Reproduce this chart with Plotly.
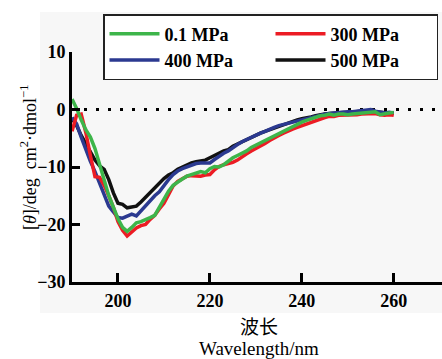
import plotly.graph_objects as go

wavelength = list(range(190, 261))

mpa_0_1 = [1.8, 0.2, -1.8, -3.5, -4.8, -6.8, -9.5, -12.5, -15.0, -17.0,
           -19.0, -20.5, -21.2, -20.5, -19.7, -19.5, -19.2, -18.8, -18.4, -17.0,
           -15.5, -14.2, -13.2, -12.6, -12.1, -11.6, -11.3, -11.0, -10.8, -11.0,
           -10.3, -9.9, -10.0, -9.6, -9.0, -8.4, -8.0, -7.6, -7.2, -6.6,
           -6.2, -5.8, -5.3, -4.9, -4.5, -4.1, -3.7, -3.3, -2.9, -2.5,
           -2.2, -1.9, -1.6, -1.3, -1.1, -1.0, -0.8, -1.0, -0.8, -0.8,
           -0.9, -0.8, -0.7, -0.7, -0.6, -0.4, -0.4, -0.9, -0.7, -0.6, -0.5]

mpa_300 = [-3.8, -1.0, -0.8, -4.0, -8.0, -11.7, -11.8, -13.2, -15.0, -17.0,
           -19.5, -21.0, -22.0, -21.2, -20.6, -20.2, -20.0, -19.1, -18.4, -17.3,
           -16.3, -14.8, -13.3, -12.5, -12.0, -11.6, -11.5, -11.6, -11.6, -11.4,
           -11.3, -10.5, -9.9, -9.6, -9.4, -9.2, -8.8, -8.2, -7.7, -7.2,
           -6.8, -6.3, -5.9, -5.4, -4.9, -4.5, -4.1, -3.7, -3.4, -3.1,
           -2.8, -2.5, -2.2, -1.9, -1.6, -1.4, -1.2, -1.2, -1.0, -1.0,
           -0.9, -1.0, -0.9, -0.8, -0.8, -0.7, -0.7, -0.9, -1.0, -0.9, -1.0]

mpa_400 = [-1.4, -2.5, -4.8, -7.0, -9.0, -10.8, -12.8, -15.0, -16.8, -17.8,
           -18.8, -18.9, -18.6, -18.2, -18.5, -17.6, -16.8, -15.9, -15.0, -14.3,
           -13.2, -12.2, -11.3, -10.7, -10.3, -10.0, -9.6, -9.4, -9.3, -9.3,
           -9.3, -8.7, -8.1, -7.6, -7.2, -6.6, -6.1, -5.6, -5.2, -4.8,
           -4.4, -4.1, -3.8, -3.4, -3.1, -2.8, -2.6, -2.3, -2.1, -1.9,
           -1.7, -1.5, -1.3, -1.1, -0.9, -0.8, -0.7, -0.6, -0.5, -0.5,
           -0.4, -0.4, -0.3, -0.2, -0.1, 0.0, -0.3, -0.4, -0.6, -0.5, -0.6]

mpa_500 = [-1.5, -2.8, -4.5, -6.0, -7.5, -8.8, -9.8, -10.4, -12.2, -14.5,
           -16.3, -16.5, -17.1, -17.0, -16.8, -16.1, -15.3, -14.4, -13.5, -12.7,
           -12.0, -11.4, -11.0, -10.4, -10.0, -9.6, -9.3, -9.1, -9.0, -8.8,
           -8.4, -8.0, -7.5, -7.2, -7.0, -6.4, -6.0, -5.6, -5.2, -4.8,
           -4.4, -4.1, -3.8, -3.5, -3.2, -2.9, -2.6, -2.3, -2.0, -1.8,
           -1.6, -1.5, -1.3, -1.1, -0.9, -0.8, -0.7, -0.6, -0.6, -0.5,
           -0.5, -0.4, -0.4, -0.3, -0.3, -0.2, -0.4, -0.5, -0.6, -0.6, -0.7]

x_ticks = [200, 220, 240, 260]
y_ticks = [-30, -20, -10, 0, 10]

SERIF = "Liberation Serif, Times New Roman, Noto Sans CJK SC, serif"

fig = go.Figure()
series = [
    ("500 MPa", mpa_500, "#111111", 4),
    ("400 MPa", mpa_400, "#2b3990", 3),
    ("300 MPa", mpa_300, "#ec1c24", 2),
    ("0.1 MPa", mpa_0_1, "#3db54a", 1),
]
for name, vals, color, rank in series:
    fig.add_trace(go.Scatter(x=wavelength, y=vals, mode="lines", name=name,
                             line=dict(color=color, width=3.5), legendrank=rank))

L, T, B, R = 72, 52, 77, 0
W, H = 442, 359
pw, ph = W - L - R, H - T - B

def px_x(p):
    return (p - L) / pw

def px_y(p):
    return (H - B - p) / ph

fig.update_layout(
    width=W, height=H,
    margin=dict(l=L, r=R, t=T, b=B, pad=0, autoexpand=False),
    paper_bgcolor="white",
    plot_bgcolor="#f7f7f7",
    font=dict(family=SERIF, color="black"),
    showlegend=True,
    legend=dict(
        orientation="h", entrywidth=101, entrywidthmode="pixels",
        x=px_x(103), xanchor="left", y=px_y(14), yanchor="top",
        bgcolor="white", bordercolor="#222222", borderwidth=1.5,
        font=dict(family=SERIF, size=18, weight="bold", color="black"),
        itemwidth=50, tracegroupgap=0,
    ),
    xaxis=dict(
        range=[190, 270.5], tickvals=x_ticks, ticks="inside", ticklen=9,
        tickwidth=3, tickcolor="black", showline=True, linewidth=3,
        linecolor="black", showgrid=False, zeroline=False,
        tickfont=dict(family=SERIF, size=18, weight="bold", color="black"),
    ),
    yaxis=dict(
        range=[-30, 10], tickvals=y_ticks, ticks="inside", ticklen=8,
        tickwidth=3, tickcolor="black", showline=True, linewidth=3,
        linecolor="black", showgrid=False, zeroline=False,
        tickfont=dict(family=SERIF, size=18, weight="bold", color="black"),
    ),
    shapes=[
        dict(type="rect", xref="paper", yref="paper", x0=px_x(40), x1=1,
             y0=px_y(313), y1=px_y(12), fillcolor="#f7f7f7", line=dict(width=0),
             layer="below"),
        dict(type="line", xref="paper", yref="y", x0=0, x1=1, y0=0, y1=0,
             line=dict(color="black", width=3, dash="3px,9px"), layer="below"),
    ],
    annotations=[
        dict(text="[<i>θ</i>]/deg  cm<sup>2</sup>·dmol<sup>−1</sup>",
             xref="paper", yref="paper", x=px_x(28), y=px_y(157),
             xanchor="center", yanchor="middle",
             textangle=-90, showarrow=False,
             font=dict(family=SERIF, size=18, color="black")),
        dict(text="波长", xref="paper", yref="paper", x=px_x(259), y=px_y(327),
             xanchor="center", yanchor="middle",
             showarrow=False, font=dict(family=SERIF, size=19, color="black")),
        dict(text="Wavelength/nm", xref="paper", yref="paper", x=px_x(259),
             y=px_y(348), xanchor="center", yanchor="middle", showarrow=False,
             font=dict(family=SERIF, size=19, color="black")),
    ],
)

fig.write_html(
    "out.html",
    config={"displayModeBar": False},
    post_script="document.body.style.margin='0';document.body.style.overflow='hidden';",
)
